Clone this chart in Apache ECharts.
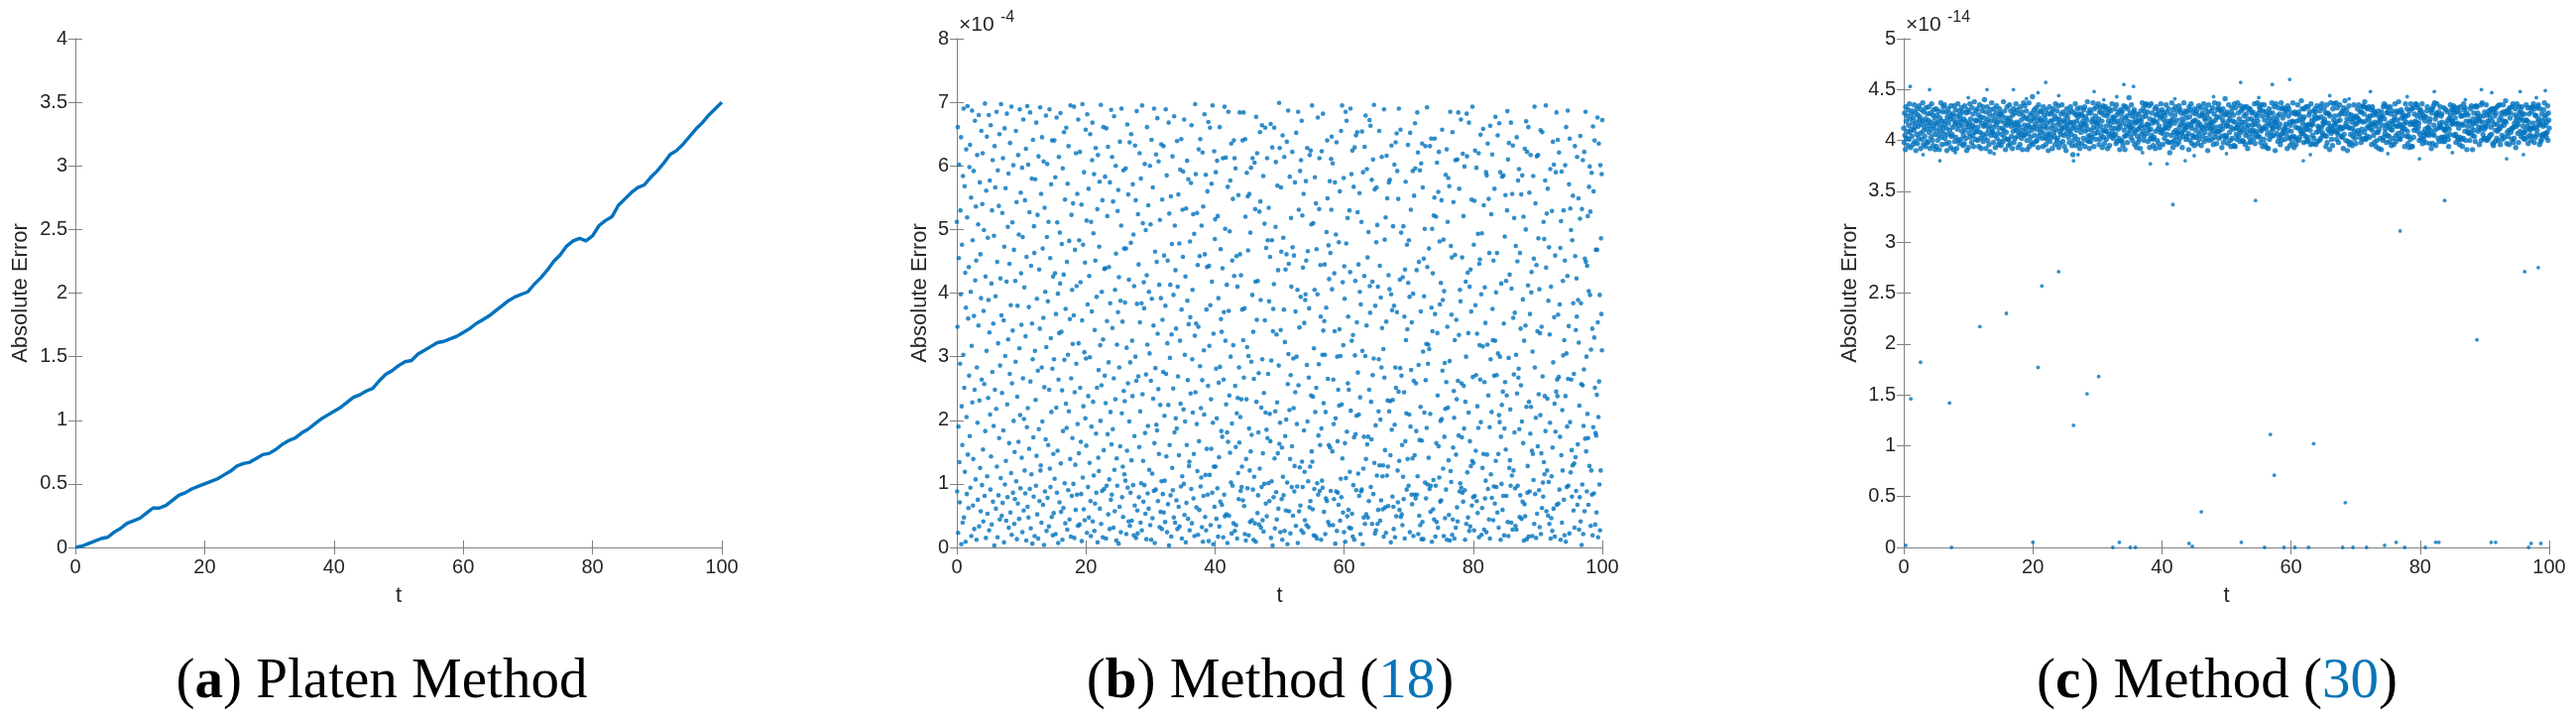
<!DOCTYPE html>
<html><head><meta charset="utf-8">
<script src="https://cdn.jsdelivr.net/npm/echarts@6/dist/echarts.min.js"></script>
<style>html,body{margin:0;padding:0;background:#fff}#chart{width:2598px;height:728px}</style>
</head><body><div id="chart"></div>
<script>
// ---------- Panel (a): Platen Method ----------
const tA = [0,1,2,3,4,5,6,7,8,9,10,11,12,13,14,15,16,17,18,19,20,21,22,23,24,25,26,27,28,29,30,31,32,33,34,35,36,37,38,39,40,41,42,43,44,45,46,47,48,49,50,51,52,53,54,55,56,57,58,59,60,61,62,63,64,65,66,67,68,69,70,71,72,73,74,75,76,77,78,79,80,81,82,83,84,85,86,87,88,89,90,91,92,93,94,95,96,97,98,99,100];
const errA = [0.00,0.01,0.03,0.05,0.07,0.08,0.12,0.15,0.19,0.21,0.23,0.27,0.31,0.31,0.33,0.37,0.41,0.43,0.46,0.48,0.50,0.52,0.54,0.57,0.60,0.64,0.66,0.67,0.70,0.73,0.74,0.77,0.81,0.84,0.86,0.90,0.93,0.97,1.01,1.04,1.07,1.10,1.14,1.18,1.20,1.23,1.25,1.31,1.36,1.39,1.43,1.46,1.47,1.52,1.55,1.58,1.61,1.62,1.64,1.66,1.69,1.72,1.76,1.79,1.82,1.86,1.90,1.94,1.97,1.99,2.01,2.07,2.12,2.18,2.25,2.30,2.37,2.41,2.43,2.41,2.45,2.53,2.57,2.60,2.69,2.74,2.79,2.83,2.85,2.91,2.96,3.02,3.09,3.12,3.17,3.23,3.29,3.34,3.40,3.45,3.50];

// ---------- Panel (b): Method (18), values in units of 1e-6 ----------
const errB = [
512,88,347,661,23,190,455,602,134,71,289,530,398,645,5,222,476,161,39,584,
303,690,47,251,568,119,432,9,377,626,205,84,519,694,146,360,62,441,270,598,
175,633,94,402,550,18,317,687,228,483,66,139,592,364,29,248,671,420,107,536,
451,12,283,617,196,75,508,349,680,33,231,574,125,461,57,392,655,264,98,540,
620,154,41,372,499,257,81,698,183,426,15,561,309,646,112,53,487,235,389,680,
27,338,577,209,91,664,143,415,36,530,276,609,72,352,191,490,3,631,248,566,
395,61,218,685,127,449,16,593,321,82,537,172,650,44,286,423,109,697,365,50,
243,526,70,612,184,357,8,473,659,99,301,565,136,42,418,682,225,79,504,327,
588,31,164,446,273,636,55,381,117,693,20,258,511,341,86,601,199,468,37,150,
76,419,292,655,104,543,13,237,380,69,617,166,492,45,313,689,208,93,558,431,
350,141,597,24,488,266,673,58,202,409,121,546,85,332,627,11,457,189,694,64,
219,602,47,378,155,527,92,684,261,30,443,115,580,352,6,296,641,173,80,505,
463,18,309,579,232,97,668,144,391,52,523,278,14,615,186,437,73,344,692,121,
129,556,39,283,645,198,470,67,361,607,4,252,534,88,402,170,679,315,26,488,
603,78,387,161,512,33,248,689,124,455,95,329,571,213,48,640,281,19,426,147,
54,296,640,108,431,582,21,367,220,676,86,511,152,399,7,264,614,337,71,495,
415,683,132,56,339,477,247,12,596,183,62,429,653,295,101,547,38,375,226,660,
188,449,28,572,303,90,631,214,482,44,359,139,695,17,266,523,81,405,172,320,
541,100,365,693,15,244,468,130,59,620,289,411,83,556,194,34,673,321,148,483,
36,622,251,417,166,84,539,10,357,697,110,476,222,60,590,307,43,448,203,657,
297,160,514,23,681,382,95,238,564,47,427,133,299,650,73,18,512,190,371,609,
668,41,229,494,113,587,26,342,69,451,628,179,86,394,251,532,8,617,141,279,
120,473,575,61,318,199,696,37,255,402,89,546,16,327,661,153,92,438,270,583,
439,227,14,659,97,356,521,178,630,52,291,441,107,29,574,384,213,75,688,162,
83,614,345,186,544,31,266,678,122,57,405,233,600,462,11,140,319,97,529,370,
562,6,425,283,64,638,159,388,24,506,690,211,79,355,127,48,593,246,470,115,
230,385,105,596,470,21,314,152,665,94,258,555,41,421,198,637,34,291,86,479,
650,137,42,325,238,571,98,492,19,411,175,66,632,300,546,15,262,686,383,58,
22,524,269,445,79,158,620,354,214,39,580,101,384,27,695,241,510,136,72,417,
376,98,603,180,53,499,272,13,428,661,319,85,191,538,61,402,122,305,600,35,
508,262,12,641,391,116,46,566,234,349,89,690,164,7,465,282,91,618,193,449,
184,675,336,73,249,607,147,413,32,515,224,56,392,634,104,29,547,358,84,276,
631,55,459,207,105,40,380,689,273,143,585,24,321,451,68,224,668,3,525,161,
298,413,82,552,17,335,477,125,615,90,250,397,47,678,181,506,39,436,203,344,
74,187,639,29,410,269,555,64,145,478,33,325,594,226,96,642,374,14,112,531,
457,591,217,100,673,51,303,198,426,8,533,70,161,608,388,263,45,579,351,128,
135,27,481,362,242,573,92,664,38,296,405,212,524,77,147,493,18,333,697,244,
587,352,63,194,526,120,444,20,347,626,167,59,458,285,642,96,219,110,506,32,
263,621,9,536,81,310,209,681,461,48,114,586,27,374,155,441,560,83,254,669,
10,443,317,114,660,381,35,233,155,572,418,86,695,196,5,336,127,623,64,485,
516,127,590,281,45,203,608,93,521,17,392,259,142,33,661,284,72,469,359,183,
339,67,174,439,612,16,264,370,83,693,49,501,325,613,225,52,413,181,7,567,
166,685,372,50,239,497,149,577,300,102,635,22,195,451,97,548,318,38,640,427,
612,26,254,596,158,35,458,211,14,410,235,117,554,76,283,165,684,461,205,89,
428,233,95,127,374,640,74,326,684,267,65,376,21,642,520,11,139,233,589,315,
93,552,467,301,19,187,556,121,40,495,151,597,292,177,43,397,612,91,339,12,
265,111,605,38,532,418,9,677,229,358,620,54,419,82,181,274,36,528,124,653,
544,389,31,220,95,664,296,43,148,584,25,243,100,509,357,660,212,69,471,185,
49,612,172,483,273,101,534,387,73,210,457,167,666,15,294,104,483,629,3,340,
375,79,414,660,140,30,214,504,606,87,335,44,228,569,148,436,61,286,699,163,
628,196,24,342,566,465,76,157,12,648,111,487,82,374,614,26,323,175,437,58,
201,461,638,102,5,257,687,304,446,57,216,583,139,22,271,518,410,95,159,622,
472,50,297,219,459,88,128,574,244,371,34,652,300,194,96,405,7,685,255,531,
57,346,126,592,66,394,609,27,671,135,522,95,440,23,556,184,353,119,43,389,
398,576,451,35,287,628,198,466,104,32,267,376,63,617,127,73,624,239,508,151,
695,135,60,237,510,19,313,92,405,582,213,18,541,251,469,14,101,398,676,83,
176,288,532,612,89,161,444,363,12,187,623,105,303,94,682,341,227,56,356,445,
303,21,213,77,377,496,73,640,549,265,40,475,161,422,35,576,157,463,89,611,
531,646,406,151,604,35,264,194,76,431,340,574,6,203,492,88,637,26,300,167,
86,248,67,480,223,343,560,42,301,108,655,79,225,695,140,417,55,318,581,24,
442,391,164,9,685,109,478,671,182,49,518,258,363,59,248,31,530,119,433,690,
215,30,587,325,53,624,17,334,98,567,173,12,629,302,419,178,648,90,207,354,
653,527,275,116,445,209,81,557,402,236,21,382,88,512,91,654,309,5,590,124,
47,174,427,630,37,301,679,139,52,349,595,162,456,47,174,496,73,248,672,411,
369,663,95,229,170,578,37,418,271,610,84,297,696,133,563,22,380,192,27,480,
566,113,507,37,410,59,214,296,655,129,443,42,201,393,74,283,614,345,112,60,
129,312,17,689,267,484,153,63,519,23,355,616,113,549,231,127,65,428,574,214,
406,578,230,145,8,398,632,185,373,80,232,505,64,29,380,602,193,16,283,637,
251,49,651,370,592,121,71,548,245,690,136,59,421,282,657,48,495,270,52,161,
35,425,111,505,76,244,363,14,437,167,575,326,211,91,476,343,139,633,416,97,
483,209,394,24,652,190,531,279,83,354,68,140,592,399,18,262,553,83,145,667,
596,77,258,183,436,83,684,112,621,21,287,449,50,169,593,35,221,371,604,13,
168,635,40,566,308,13,454,395,212,501,102,631,263,77,320,188,692,441,99,289,
319,141,470,312,92,631,210,56,97,643,377,9,501,340,431,60,106,522,44,550,
643,367,17,97,520,164,40,605,337,239,31,559,159,622,110,481,382,72,199,416,
74,546,202,657,278,389,124,484,18,403,174,290,46,218,586,91,260,626,12,347,
512,220,581,137,51,568,293,11,685,120,474,103,366,456,20,653,44,157,543,246,
204,14,326,460,609,31,146,358,233,63,610,41,262,684,176,334,564,88,405,101,
387,673,94,258,173,456,86,619,72,521,254,187,599,90,12,229,418,300,37,682,
615,118,432,47,337,212,668,26,410,167,33,437,128,371,547,66,136,693,268,79,
133,476,27,545,81,624,381,152,271,597,73,336,222,54,493,188,620,16,446,318,
453,264,649,197,398,20,494,62,125,316,658,147,538,28,260,409,77,353,105,590,
24,585,146,319,635,92,239,548,44,463,189,14,663,296,115,524,213,78,618,375,
326,43,451,96,270,564,69,325,677,136,401,95,271,463,55,648,305,147,31,208,
667,197,300,590,12,174,415,100,224,583,59,245,81,585,352,19,187,489,260,554,
154,419,81,239,530,686,40,610,18,298,636,125,429,137,217,97,668,39,407,113,
556,28,632,361,121,272,518,181,369,93,34,474,303,28,645,242,450,97,577,267,
281,595,186,48,463,82,344,255,555,45,198,585,72,390,164,520,11,325,68,627,
49,349,500,670,221,13,622,86,128,412,661,17,229,558,88,367,179,617,221,401,
433,152,18,308,147,584,106,454,37,693,283,84,541,204,15,444,615,53,340,159,
617,486,241,90,406,32,337,208,656,21,148,347,62,653,269,102,80,512,134,485,
115,238,577,183,695,440,57,525,121,234,564,50,388,103,472,37,335,196,595,14,
410,46,112,529,26,157,638,291,61,602,362,226,17,459,182,590,245,684,67,264,
238,641,366,69,268,621,91,382,174,471,12,513,145,591,39,216,121,419,302,530,
75,326,19,451,601,238,9,661,305,95,190,427,687,265,97,348,571,22,643,197,
533,118,499,264,153,80,483,129,553,384,58,273,132,31,631,458,142,342,89,423,
363,614,67,162,389,549,322,28,223,79,517,647,41,384,257,4,532,99,255,609,
21,191,280,622,57,454,171,685,449,151,300,88,443,210,521,172,67,403,567,128,
599,397,528,34,311,121,589,83,344,19,662,189,560,85,330,640,251,36,180,468,
176,55,240,468,676,354,16,205,635,261,99,397,27,601,121,486,367,587,310,672
];

// ---------- Panel (c): Method (30), values in units of 1e-16 ----------
const errCBand = [
412,398,427,405,391,433,419,402,424,409,395,430,415,401,436,408,421,393,426,411,
404,429,417,396,422,410,435,399,413,427,390,418,406,431,397,425,414,402,434,420,
423,407,392,416,430,401,419,437,409,396,428,413,404,421,394,432,417,399,411,426,
398,420,433,408,415,392,427,403,418,436,411,400,425,395,430,414,406,422,391,417,
431,394,410,425,400,418,405,429,391,414,422,409,437,403,419,396,428,412,433,407,
416,435,402,419,428,397,412,390,423,406,431,417,398,427,410,421,393,434,404,424,
406,413,426,391,420,434,399,416,430,403,418,392,424,411,436,400,415,429,397,421,
425,401,418,432,409,414,428,395,405,421,397,434,410,419,402,427,390,416,430,413,
393,428,407,417,436,403,421,411,398,432,415,405,426,394,413,438,408,420,401,429,
419,409,431,400,413,425,394,420,435,408,402,423,392,417,429,406,433,399,414,422,
440,403,415,428,392,418,407,433,400,421,411,396,426,414,389,430,405,419,437,408,
409,424,398,413,431,405,420,393,427,416,434,402,418,407,423,396,412,431,399,426,
427,395,419,406,424,412,399,438,410,403,429,417,391,422,408,415,433,401,420,395,
401,417,435,422,397,429,414,404,418,392,425,409,431,398,416,427,402,413,436,410,
418,430,404,393,416,408,426,413,396,433,406,420,402,428,391,410,424,437,405,415,
434,406,422,411,429,400,391,421,415,407,437,394,413,425,403,419,398,410,427,443,
396,421,413,430,405,423,416,399,432,411,400,427,419,393,435,404,422,414,408,429,
420,411,428,402,418,394,433,407,425,414,421,403,396,430,412,401,417,426,390,405,
407,433,399,419,426,412,403,428,392,420,415,431,408,404,424,396,436,411,421,400,
429,402,416,434,393,421,409,397,418,406,426,413,435,411,399,428,405,420,394,418,
413,425,390,407,431,415,422,411,403,427,398,418,409,433,417,406,429,395,412,386,
400,418,427,414,404,436,395,425,410,419,431,401,423,397,426,413,392,432,416,408,
426,397,412,424,419,402,430,416,433,394,409,423,415,400,420,438,411,404,427,399,
392,430,405,399,427,410,418,403,421,437,413,394,431,419,407,424,401,417,433,412,
417,408,436,421,396,428,401,432,414,405,427,419,393,410,434,403,425,397,409,430,
433,414,401,409,424,392,427,419,406,431,395,416,404,429,412,420,436,408,423,402,
405,422,418,431,412,406,397,435,425,399,419,411,428,402,416,391,413,430,400,426,
421,399,429,395,417,434,410,404,391,422,433,405,414,424,398,431,419,407,442,415,
410,427,413,403,435,418,424,400,412,428,407,430,396,417,421,409,426,393,418,404,
398,411,425,420,401,413,392,429,419,406,415,437,423,409,432,400,404,428,413,435,
424,436,407,416,428,399,415,410,434,393,421,402,411,436,405,427,417,401,395,420,
403,419,431,392,409,425,433,418,400,426,411,397,429,414,393,422,408,436,424,410,
430,407,396,427,420,411,402,424,416,413,435,428,406,399,419,412,431,398,417,388,
415,426,419,405,437,398,421,393,430,408,400,417,425,433,410,403,396,420,407,429,
408,398,434,413,402,430,416,427,407,421,393,409,418,404,437,426,414,411,429,401,
422,413,404,428,416,407,391,433,423,400,430,415,436,412,397,418,405,427,403,419,
395,431,420,410,426,403,429,414,397,418,406,434,401,424,416,409,432,395,413,425,
427,404,412,436,399,422,408,420,431,415,402,425,412,390,428,435,400,416,421,406,
411,417,429,401,413,432,418,396,409,426,437,403,420,407,413,397,423,430,409,432,
436,402,409,423,430,414,404,428,393,411,420,431,398,417,425,405,441,402,426,414,
404,428,415,397,419,435,425,408,421,400,413,394,428,432,402,419,411,425,395,436,
418,394,432,412,406,401,413,437,416,427,404,421,410,399,434,408,429,414,418,400,
431,410,399,424,433,418,396,405,426,413,433,408,392,421,415,430,403,398,431,410,
399,421,427,407,415,428,410,419,402,436,397,416,425,406,409,423,437,419,404,427,
414,433,403,430,398,409,435,411,424,394,429,412,401,435,420,396,414,428,411,393,
425,406,417,392,422,431,401,427,415,408,419,404,437,413,427,411,422,405,433,417,
390,418,436,414,407,420,424,399,432,412,403,426,416,396,405,437,400,431,407,422,
432,409,411,426,401,413,430,416,406,429,392,434,410,424,431,402,418,395,415,403,
409,427,398,419,437,404,418,393,428,403,426,413,396,401,419,426,435,412,428,400,
420,403,424,409,412,439,407,431,417,421,407,398,423,431,411,404,415,433,399,411,
403,415,433,400,425,416,428,410,396,436,415,420,405,416,397,429,402,420,424,431,
428,396,408,422,434,399,414,422,409,412,400,429,433,402,423,413,436,408,405,418,
416,431,421,405,418,427,394,404,435,398,427,411,417,426,409,391,424,414,437,407,
401,412,395,431,409,420,436,415,424,417,410,437,401,408,432,419,406,398,413,425,
435,420,413,411,427,404,403,429,412,392,432,406,426,439,414,400,417,430,421,390,
413,399,426,434,396,412,421,406,398,425,418,395,412,404,421,435,409,423,402,416,
397,424,407,417,431,422,410,435,420,407,403,428,419,398,428,411,433,401,418,434,
426,408,438,402,419,401,432,412,404,431,423,414,433,420,403,424,412,416,430,396,
410,433,416,425,405,429,398,418,427,414,394,408,400,425,417,408,429,392,411,421,
419,402,423,391,428,415,424,400,433,403,436,421,407,411,434,415,398,427,405,428,
432,417,404,413,399,433,411,426,395,419,410,429,416,402,396,420,423,436,414,399,
405,427,429,420,414,407,438,402,416,428,401,414,430,422,409,427,405,412,424,416,
421,394,411,436,424,418,404,431,409,397,425,404,393,429,416,401,436,418,394,431,
394,416,432,403,410,426,416,419,436,412,418,435,424,409,432,413,417,400,427,406,
430,422,402,428,436,397,425,408,401,423,405,419,411,398,423,406,429,433,408,413,
412,405,418,397,421,410,430,392,427,406,431,397,434,415,405,437,410,421,395,425,
427,436,425,412,402,428,399,417,413,433,414,424,403,426,418,399,403,411,432,403,
399,411,409,430,417,404,413,428,420,401,394,411,422,406,435,425,420,430,416,419,
417,430,434,405,427,432,422,406,398,416,428,403,417,432,401,412,428,396,403,433,
424,401,416,424,394,415,402,436,430,425,409,432,400,419,427,391,414,409,425,408,
407,419,400,418,431,408,434,413,405,391,421,417,427,410,404,433,399,417,434,420,
433,424,427,409,413,421,396,419,424,411,435,400,413,437,418,406,424,402,411,428,
402,414,413,435,400,425,419,401,417,429,403,426,405,422,430,413,406,431,419,397,
428,395,431,416,424,399,410,427,432,402,416,409,434,400,411,420,435,412,396,423,
414,427,405,401,419,435,428,415,403,419,426,439,418,429,397,408,427,404,430,410,
396,432,422,427,408,411,401,433,412,436,398,413,402,417,425,431,393,420,414,436,
423,407,416,398,433,427,420,409,429,404,422,433,426,407,414,402,419,426,408,401,
410,420,435,420,403,414,432,397,418,426,412,405,410,432,400,428,412,404,433,417,
436,412,398,431,425,403,413,424,406,410,433,419,435,415,421,396,431,416,399,405,
401,426,419,406,414,430,405,437,422,415,407,425,403,418,408,434,400,427,420,412
];
// sparse points outside the dense band (t, value in 1e-14)
const cSparseT = [1.0,4.0,5.6,12.9,17.0,20.8,22.0,26.3,29.5,34.1,35.6,38.2,40.8,43.6,52.2,57.1,59.8,61.9,72.3,82.2,89.5,91.1,95.5,99.4,93.4,79.9,3,8,10,14,19,24,27,31,33,37,42,45,48,50,55,63,66,69,75,78,85,87,96,98];
const cSparseY = [4.53,4.50,3.80,4.50,4.50,4.47,4.57,3.80,4.48,4.55,4.53,3.77,3.77,3.80,4.57,4.55,4.60,3.80,4.48,4.48,4.50,4.47,4.48,4.49,3.82,3.82,3.86,3.88,4.42,3.87,4.41,4.44,3.86,4.40,4.43,3.88,4.41,3.85,4.43,3.87,4.42,3.86,4.44,4.41,3.87,4.43,3.88,4.40,3.86,4.42];
// isolated outliers (t, value in 1e-14)
const cOutT = [1.1,2.6,7.1,11.8,15.9,20.8,21.4,24.0,26.3,28.4,30.2,41.7,46.1,54.5,56.8,57.4,63.5,68.4,76.9,83.8,88.8,96.2,98.3];
const cOutY = [1.46,1.82,1.42,2.17,2.30,1.77,2.57,2.71,1.20,1.51,1.68,3.37,0.35,3.41,1.11,0.71,1.02,0.44,3.11,3.41,2.04,2.71,2.75];
// points near zero (t, value in 1e-14)
const cZeroT = [0.3,7.4,20.0,32.4,33.4,35.1,35.9,44.2,44.7,52.3,55.9,58.9,60.6,62.7,68.0,69.6,71.7,74.5,76.3,77.6,80.8,82.4,82.9,91.0,91.7,96.8,97.2,98.7];
const cZeroY = [0.02,0,0.05,0,0.05,0,0,0.04,0.01,0.05,0,0,0,0,0,0,0,0.02,0.05,0,0,0.05,0.05,0.05,0.05,0,0.04,0.04];

const xTicks = [0,20,40,60,80,100];
const captions = [
  {x:385,  text:'{p|(}{bd|a}{p|)} Platen Method'},
  {x:1281, text:'{p|(}{bd|b}{p|)} Method ({l|18})'},
  {x:2236, text:'{p|(}{bd|c}{p|)} Method ({l|30})'}
];

// ---------- build ----------
const BLUE = '#0072BD';
const AX = '#808080';
const TXT = '#262626';
const SANS = '"Liberation Sans", Arial, Helvetica, sans-serif';
const SERIF = '"Liberation Serif", "Times New Roman", serif';
const CAP = 57;

const grids = [
  {left:76,  top:39, width:652, height:513},
  {left:965, top:39, width:651, height:513},
  {left:1920,top:39, width:651, height:513}
].map(g => Object.assign({containLabel:false}, g));

function xAxes(gi){
  const common = {type:'value', gridIndex:gi, min:xTicks[0], max:xTicks[xTicks.length-1], interval:20,
    axisLine:{show:true,lineStyle:{color:AX,width:1}}, splitLine:{show:false},
    axisTick:{show:true,inside:true,length:7,lineStyle:{color:AX}}};
  return [
    Object.assign({}, common, {position:'bottom', name:'t', nameLocation:'middle', nameGap:38,
      nameTextStyle:{color:TXT,fontSize:22,fontFamily:SANS},
      axisLabel:{color:TXT,fontSize:20,fontFamily:SANS,margin:10}}),
    Object.assign({}, common, {position:'top', axisLabel:{show:false}})
  ];
}
function yAxes(gi, min, max, interval, fmt, gap){
  const common = {type:'value', gridIndex:gi, min:min, max:max, interval:interval,
    axisLine:{show:true,lineStyle:{color:AX,width:1}}, splitLine:{show:false},
    axisTick:{show:true,inside:true,length:7,lineStyle:{color:AX}}};
  return [
    Object.assign({}, common, {position:'left', name:'Absolute Error', nameLocation:'middle', nameGap:gap,
      nameTextStyle:{color:TXT,fontSize:22,fontFamily:SANS},
      axisLabel:{color:TXT,fontSize:20,fontFamily:SANS,margin:8,formatter:fmt}}),
    Object.assign({}, common, {position:'right', axisLabel:{show:false}})
  ];
}

const fmtA = v => String(v);
const fmtB = v => String(Math.round(v/1e-4));
const fmtC = v => String(+((v/1e-14).toFixed(1)));

const dataA = tA.map((t,i)=>[t, errA[i]]);
const dataB = errB.map((v,i)=>[i*100/(errB.length-1), v*1e-6]);
const dataCBand = errCBand.map((v,i)=>[i*100/(errCBand.length-1), v*1e-16]);
const dataCSparse = cSparseT.map((t,i)=>[t, cSparseY[i]*1e-14]);
const dataCOut = cOutT.map((t,i)=>[t, cOutY[i]*1e-14]);
const dataCZero = cZeroT.map((t,i)=>[t, cZeroY[i]*1e-14]);

const graphics = [];
// exponent markers
graphics.push({type:'text', x:967, y:36, style:{text:'\u00d710', fontSize:21, fontFamily:SANS, fill:TXT, align:'left', verticalAlign:'bottom'}});
graphics.push({type:'text', x:1009, y:26, style:{text:'-4', fontSize:16, fontFamily:SANS, fill:TXT, align:'left', verticalAlign:'bottom'}});
graphics.push({type:'text', x:1922, y:36, style:{text:'\u00d710', fontSize:21, fontFamily:SANS, fill:TXT, align:'left', verticalAlign:'bottom'}});
graphics.push({type:'text', x:1964, y:26, style:{text:'-14', fontSize:16, fontFamily:SANS, fill:TXT, align:'left', verticalAlign:'bottom'}});
captions.forEach(c => graphics.push({type:'text', x:c.x, y:688, style:{
  text:c.text, align:'center', verticalAlign:'middle', fontSize:CAP, fontFamily:SERIF, fill:'#000',
  rich:{
    p:{fontSize:CAP, fontFamily:SERIF, fill:'#000', color:'#000'},
    bd:{fontSize:CAP, fontFamily:SERIF, fontWeight:'bold', fill:'#000', color:'#000'},
    l:{fontSize:CAP, fontFamily:SERIF, fill:'#0875b7', color:'#0875b7'}
  }}}));

const option = {
  animation:false,
  backgroundColor:'#fff',
  grid:grids,
  xAxis:[...xAxes(0), ...xAxes(1), ...xAxes(2)],
  yAxis:[...yAxes(0,0,4,0.5,fmtA,44), ...yAxes(1,0,8e-4,1e-4,fmtB,26), ...yAxes(2,0,5e-14,0.5e-14,fmtC,43)],
  series:[
    {type:'line', xAxisIndex:0, yAxisIndex:0, data:dataA, showSymbol:false, symbol:'none',
      lineStyle:{color:BLUE,width:3.4}, itemStyle:{color:BLUE}},
    {type:'scatter', xAxisIndex:2, yAxisIndex:2, data:dataB, symbolSize:4.6, itemStyle:{color:BLUE}},
    {type:'scatter', xAxisIndex:4, yAxisIndex:4, data:dataCBand, symbolSize:5.4, itemStyle:{color:BLUE}},
    {type:'scatter', xAxisIndex:4, yAxisIndex:4, data:dataCSparse, symbolSize:3.8, itemStyle:{color:BLUE}},
    {type:'scatter', xAxisIndex:4, yAxisIndex:4, data:dataCOut, symbolSize:3.8, itemStyle:{color:BLUE}},
    {type:'scatter', xAxisIndex:4, yAxisIndex:4, data:dataCZero, symbolSize:3.8, itemStyle:{color:BLUE}}
  ],
  graphic:graphics
};
const chart = echarts.init(document.getElementById('chart'), null, {renderer:'canvas'});
chart.setOption(option);
</script>
</body></html>
